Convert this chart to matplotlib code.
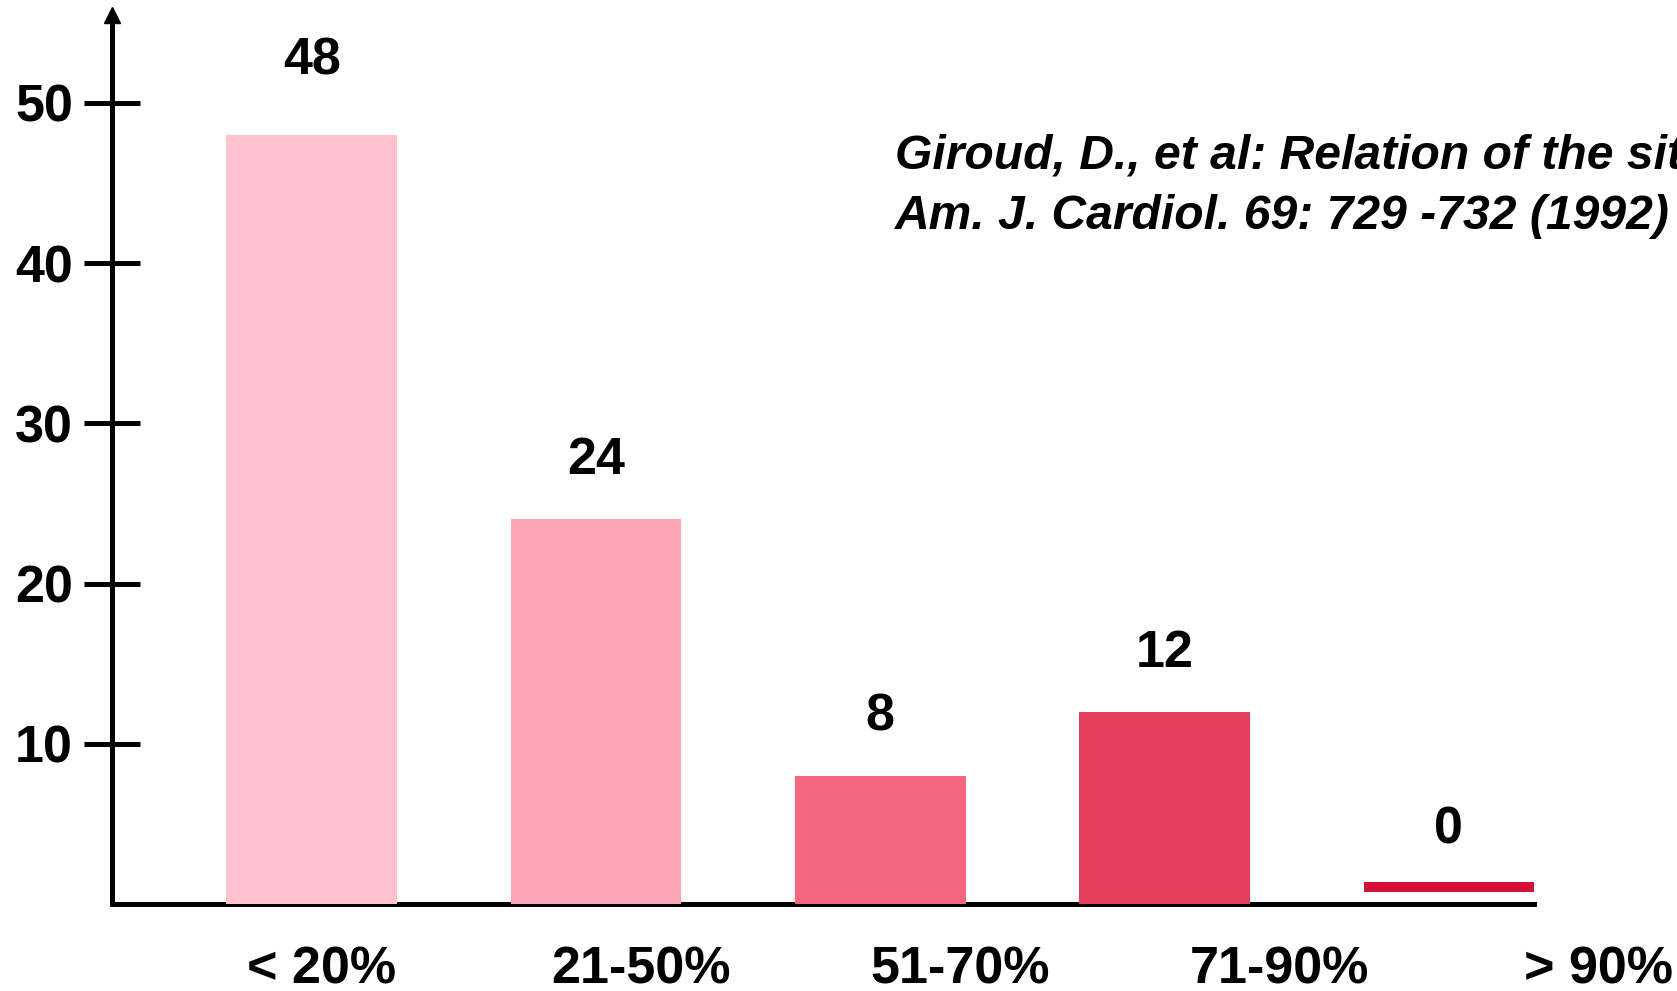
import matplotlib
matplotlib.use("Agg")
import matplotlib.pyplot as plt

# ---- data ----
categories = ["< 20%", "21-50%", "51-70%", "71-90%", "> 90%"]
values = [48, 24, 8, 12, 0]
bar_colors = ["#FEC2CE", "#FBA5B5", "#F4657F", "#E4405D", "#D31036"]
yticks = [10, 20, 30, 40, 50]
citation_lines = [
    "Giroud, D., et al: Relation of the site of acute myocardial infarction "
    "to the most severe coronary arterial stenosis at prior angiography",
    "Am. J. Cardiol. 69: 729 -732 (1992)",
]

# ---- style ----
plt.rcParams['font.family'] = ['Liberation Sans', 'DejaVu Sans']
W, H = 1677, 991
FS = 37.5
LW = 3.6
BAR_WIDTH = 0.6
ZERO_BAR_BOTTOM = 0.75   # how a zero-valued bar is shown (thin marker strip)
ZERO_BAR_HEIGHT = 0.62
LABEL_STEP = 1.123       # category labels are spread wider than the bars
LABEL_SHIFT = 0.035
label_nudge_pt = [10.8, 0, 0, 0, -4.6]   # fine vertical nudges of value labels

fig = plt.figure(figsize=(W / 100, H / 100), dpi=100)
ax = fig.add_axes([112 / W, 87 / H, (1534 - 112) / W, (976 - 87) / H])
ax.set_xlim(-0.7024, 4.2993)
ax.set_ylim(0, 55.49)

xs = list(range(len(values)))
heights = [v if v > 0 else ZERO_BAR_HEIGHT for v in values]
bottoms = [0 if v > 0 else ZERO_BAR_BOTTOM for v in values]
ax.bar(xs, heights, width=BAR_WIDTH, bottom=bottoms,
       color=bar_colors, zorder=3, linewidth=0)

# value labels
for x, v, h, b, n in zip(xs, values, heights, bottoms, label_nudge_pt):
    ax.annotate(str(v), xy=(x, b + h), xytext=(0, 32.4 + n),
                textcoords='offset points', ha='center', va='baseline',
                fontsize=FS, fontweight='bold', annotation_clip=False)

# category labels
for i, cat in enumerate(categories):
    ax.annotate(cat, xy=(i * LABEL_STEP + LABEL_SHIFT, 0), xytext=(0, -57),
                textcoords='offset points', ha='center', va='baseline',
                fontsize=FS, fontweight='bold', annotation_clip=False)

# axes styling
for s in ('top', 'right'):
    ax.spines[s].set_visible(False)
for s in ('left', 'bottom'):
    ax.spines[s].set_linewidth(LW)
    ax.spines[s].set_color('black')
    ax.spines[s].set_capstyle('projecting')

ax.set_xticks([])
ax.set_yticks(yticks)
ax.tick_params(axis='y', direction='inout', length=41, width=LW,
               pad=7.6, labelsize=FS, color='black')
for lab in ax.get_yticklabels():
    lab.set_fontweight('bold')

# arrow head on the y axis
ax.plot([0], [1], marker='^', markersize=11.5, color='black',
        transform=ax.transAxes, clip_on=False, zorder=5)

# citation (runs off the right edge, as in the original slide)
fig.text(895 / W, 1 - 169 / H, citation_lines[0], fontsize=34.6,
         fontweight='bold', style='italic', va='baseline', ha='left')
fig.text(895 / W, 1 - 229 / H, citation_lines[1], fontsize=34.6,
         fontweight='bold', style='italic', va='baseline', ha='left')

fig.savefig("out.png", dpi=100, facecolor='white')
